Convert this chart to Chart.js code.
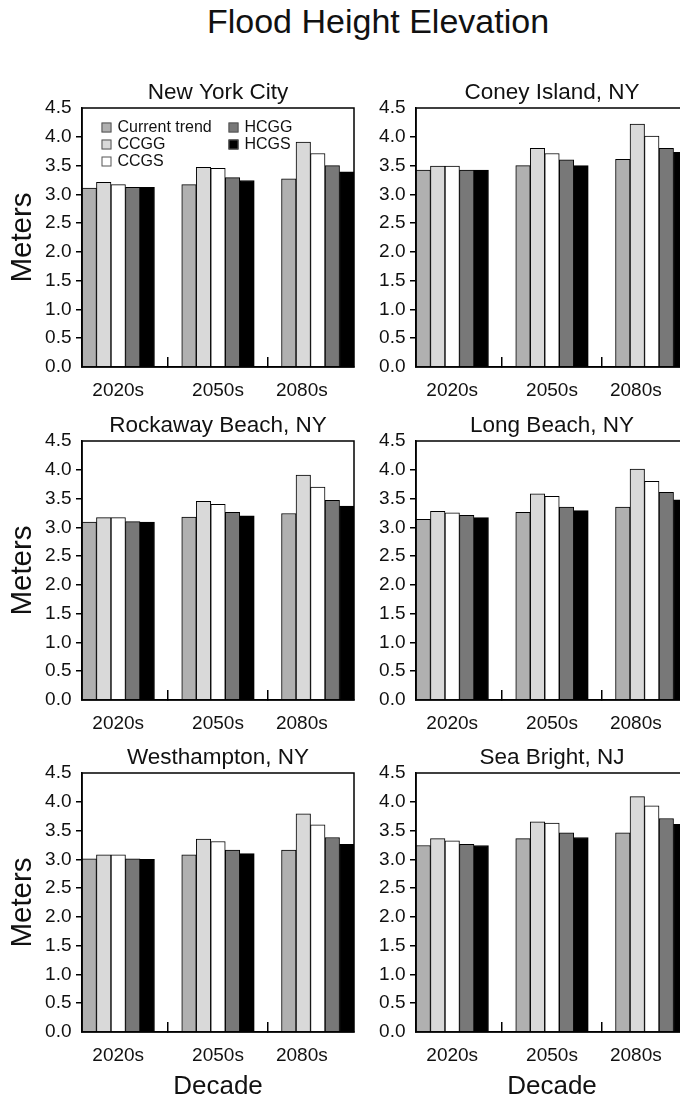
<!DOCTYPE html>
<html>
<head>
<meta charset="utf-8">
<title>Flood Height Elevation</title>
<script src="https://cdn.jsdelivr.net/npm/chart.js@4.4.1/dist/chart.umd.min.js"></script>
<style>
  html, body { margin: 0; padding: 0; background: #ffffff; }
  body { width: 680px; height: 1100px; overflow: hidden; position: relative;
         font-family: 'Liberation Sans', Arial, Helvetica, sans-serif; }
  #mainTitle { position: absolute; left: 0; top: 1px; width: 756px; text-align: center;
               font-size: 34px; line-height: 40px; color: #111111; white-space: nowrap; }
  canvas { position: absolute; }
</style>
</head>
<body>
<div id="mainTitle">Flood Height Elevation</div>
<script>
// ---- data -------------------------------------------------------------
const decades = ['2020s', '2050s', '2080s'];
const scenarios = ['Current trend', 'CCGG', 'CCGS', 'HCGG', 'HCGS'];
const sites = ['New York City', 'Coney Island, NY', 'Rockaway Beach, NY',
               'Long Beach, NY', 'Westhampton, NY', 'Sea Bright, NJ'];

// flood height elevation in meters: one row per scenario, one value per decade
const newYorkCity = [
  [3.11, 3.17, 3.27],
  [3.21, 3.47, 3.91],
  [3.17, 3.45, 3.71],
  [3.12, 3.29, 3.50],
  [3.12, 3.24, 3.39]
];
const coneyIsland = [
  [3.42, 3.50, 3.61],
  [3.49, 3.80, 4.22],
  [3.49, 3.71, 4.01],
  [3.42, 3.60, 3.80],
  [3.42, 3.50, 3.73]
];
const rockawayBeach = [
  [3.09, 3.18, 3.24],
  [3.17, 3.45, 3.91],
  [3.17, 3.40, 3.70],
  [3.10, 3.26, 3.47],
  [3.09, 3.20, 3.37]
];
const longBeach = [
  [3.14, 3.26, 3.35],
  [3.28, 3.58, 4.01],
  [3.25, 3.54, 3.80],
  [3.21, 3.35, 3.61],
  [3.17, 3.29, 3.48]
];
const westhampton = [
  [3.01, 3.08, 3.16],
  [3.08, 3.35, 3.79],
  [3.08, 3.31, 3.60],
  [3.01, 3.16, 3.38],
  [3.00, 3.10, 3.26]
];
const seaBright = [
  [3.24, 3.36, 3.46],
  [3.36, 3.65, 4.09],
  [3.32, 3.63, 3.93],
  [3.26, 3.46, 3.71],
  [3.24, 3.38, 3.61]
];
const siteValues = [newYorkCity, coneyIsland, rockawayBeach, longBeach, westhampton, seaBright];

// ---- styling ----------------------------------------------------------
const FONT = "'Liberation Sans', Arial, Helvetica, sans-serif";
const INK = '#111111';
const fills = ['#b0b0b0', '#d9d9d9', '#ffffff', '#787878', '#000000'];

// decade label positions and the small separators between decade groups
const xTickValues = [0, 0.5, 1, 1.5, 1.84];
const xTickText = [decades[0], '', decades[1], '', decades[2]];

// panel geometry (page pixels)
const colLeft = [0, 360];
const colWidth = [370, 350];
const yAxisWidth = [82, 56];
const rightPad = [16, 22];
const rowTop = [58, 391, 723];
const TITLE_H = 50, PLOT_H = 259;
const xAxisHeight = [40, 40, 70];

// box round the plotting area
const framePlugin = {
  id: 'plotFrame',
  afterDatasetsDraw(chart) {
    const { ctx, chartArea: a } = chart;
    ctx.save();
    ctx.strokeStyle = '#000';
    ctx.lineWidth = 1.5;
    ctx.strokeRect(a.left, a.top, a.right - a.left, a.bottom - a.top);
    ctx.restore();
  }
};

// two-column key drawn inside the plotting area
const insetLegend = {
  id: 'insetLegend',
  afterDatasetsDraw(chart, args, opts) {
    if (!opts.show) return;
    const { ctx, chartArea: a } = chart;
    ctx.save();
    ctx.font = '16px ' + FONT;
    ctx.textBaseline = 'middle';
    ctx.textAlign = 'left';
    chart.data.datasets.forEach((ds, i) => {
      const col = i < 3 ? 0 : 1;
      const row = i < 3 ? i : i - 3;
      const bx = a.left + (col ? 146.5 : 19.5);
      const cy = a.top + 19.5 + row * 17;
      ctx.fillStyle = ds.backgroundColor;
      ctx.fillRect(bx, cy - 5, 10, 10);
      ctx.strokeStyle = '#555';
      ctx.lineWidth = 1;
      ctx.strokeRect(bx + 0.5, cy - 4.5, 9, 9);
      ctx.fillStyle = INK;
      ctx.fillText(ds.label, bx + 16, cy + 0.5);
    });
    ctx.restore();
  }
};

function makePanel(k) {
  const col = k % 2, row = Math.floor(k / 2);
  const bottomRow = row === 2;
  const canvas = document.createElement('canvas');
  const h = TITLE_H + PLOT_H + xAxisHeight[row];
  canvas.width = colWidth[col];
  canvas.height = h;
  canvas.style.left = colLeft[col] + 'px';
  canvas.style.top = rowTop[row] + 'px';
  canvas.style.width = colWidth[col] + 'px';
  canvas.style.height = h + 'px';
  document.body.appendChild(canvas);

  const values = siteValues[k];
  const datasets = scenarios.map((name, i) => ({
    label: name,
    data: decades.map((d, j) => ({ x: j, y: values[i][j] })),
    backgroundColor: fills[i],
    borderColor: '#000',
    borderWidth: 1,
    barThickness: 14.5
  }));

  return new Chart(canvas, {
    type: 'bar',
    data: { datasets },
    options: {
      responsive: false,
      animation: false,
      devicePixelRatio: 1,
      events: [],
      layout: { padding: { left: 0, right: rightPad[col], top: 0, bottom: 0 } },
      plugins: {
        legend: { display: false },
        tooltip: { enabled: false },
        title: {
          display: true,
          text: sites[k],
          fullSize: false,
          color: INK,
          font: { family: FONT, size: 22.5, weight: 'normal' },
          padding: { top: 21.5, bottom: 1.5 }
        },
        insetLegend: { show: k === 0 }
      },
      scales: {
        x: {
          type: 'linear',
          offset: false,
          min: -0.363,
          max: 2.363,
          afterBuildTicks: s => { s.ticks = xTickValues.map(v => ({ value: v })); },
          afterFit: s => { s.height = xAxisHeight[row]; },
          ticks: {
            autoSkip: false, maxRotation: 0, minRotation: 0,
            padding: 22.5, color: INK,
            font: { family: FONT, size: 19 },
            callback: (v, i) => xTickText[i]
          },
          grid: {
            offset: false,
            drawOnChartArea: false, drawTicks: true, tickLength: -10, lineWidth: 1.5,
            color: c => (c.index === 1 || c.index === 3) ? '#000' : 'rgba(0,0,0,0)'
          },
          border: { display: true, color: '#000', width: 1.5 },
          title: {
            display: bottomRow, text: 'Decade', color: INK,
            font: { family: FONT, size: 26 },
            padding: { top: 0, bottom: 0 }
          }
        },
        y: {
          min: 0,
          max: 4.5,
          afterFit: s => { s.width = yAxisWidth[col]; },
          ticks: {
            stepSize: 0.5, padding: 4.5, color: INK,
            font: { family: FONT, size: 19 },
            callback: v => Number(v).toFixed(1)
          },
          grid: {
            drawOnChartArea: false, drawTicks: true, tickLength: 6, lineWidth: 1.5,
            color: c => (c.tick && (c.tick.value === 0 || c.tick.value === 4.5)) ? 'rgba(0,0,0,0)' : '#000'
          },
          border: { display: true, color: '#000', width: 1.5 },
          title: {
            display: col === 0, text: 'Meters', color: INK,
            font: { family: FONT, size: 29.5 },
            padding: { top: 5, bottom: 0 }
          }
        }
      }
    },
    plugins: [framePlugin, insetLegend]
  });
}

for (let k = 0; k < sites.length; k++) makePanel(k);
</script>
</body>
</html>
